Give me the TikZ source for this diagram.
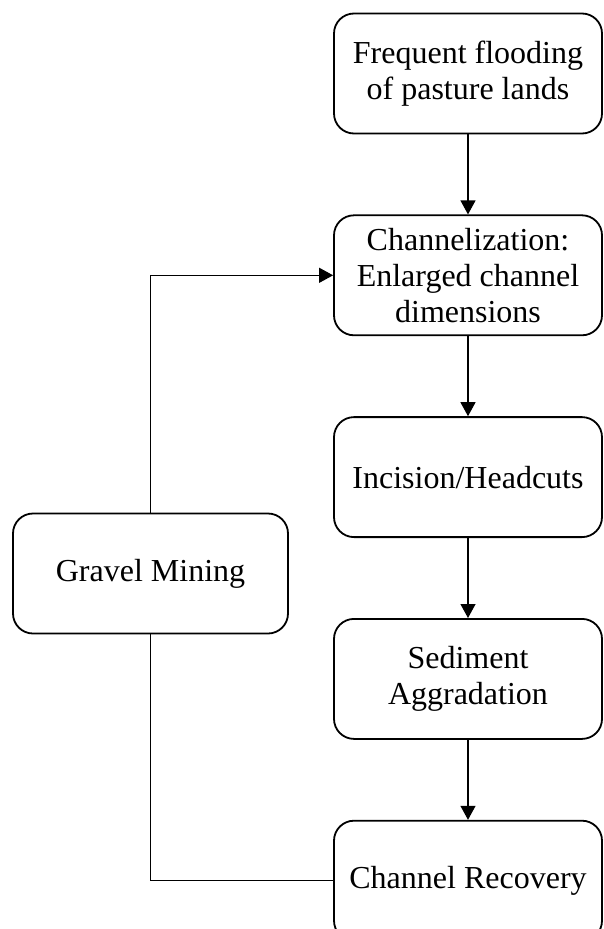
\documentclass[tikz,border=0pt]{standalone}
\usepackage{fontspec}
\setmainfont{Liberation Serif}
\usetikzlibrary{positioning,arrows.meta}

\begin{document}
\begin{tikzpicture}[x=1pt,y=1pt]
\tikzstyle{stage}=[rectangle,rounded corners=20pt,draw,line width=1.8pt,minimum width=268pt,minimum height=120pt,align=center,inner sep=0pt,font=\fontsize{32}{36}\selectfont]
\tikzstyle{link}=[line width=1.2pt,-{Triangle[length=14pt,width=15pt]}]
\useasboundingbox (0,0) rectangle (603,-929);
\clip (0,0) rectangle (603,-929);
\node[stage] (flood) at (468,-73.5) {Frequent flooding\\of pasture lands};
\node[stage,below=80pt of flood] (chan) {Channelization:\\Enlarged channel\\dimensions};
\node[stage,below=80pt of chan] (incis) {Incision/Headcuts};
\node[stage,below=80pt of incis] (sedim) {Sediment\\Aggradation};
\node[stage,below=80pt of sedim] (recov) {Channel Recovery};
\node[stage,minimum width=275pt] (gravel) at (150.5,-573.5) {Gravel Mining};
\draw[link] (flood) -- (chan);
\draw[link] (chan) -- (incis);
\draw[link] (incis) -- (sedim);
\draw[link] (sedim) -- (recov);
\draw[link] (gravel.north) |- (chan.west);
\draw[line width=1.2pt] (recov.west) -| (gravel.south);
\end{tikzpicture}
\end{document}
